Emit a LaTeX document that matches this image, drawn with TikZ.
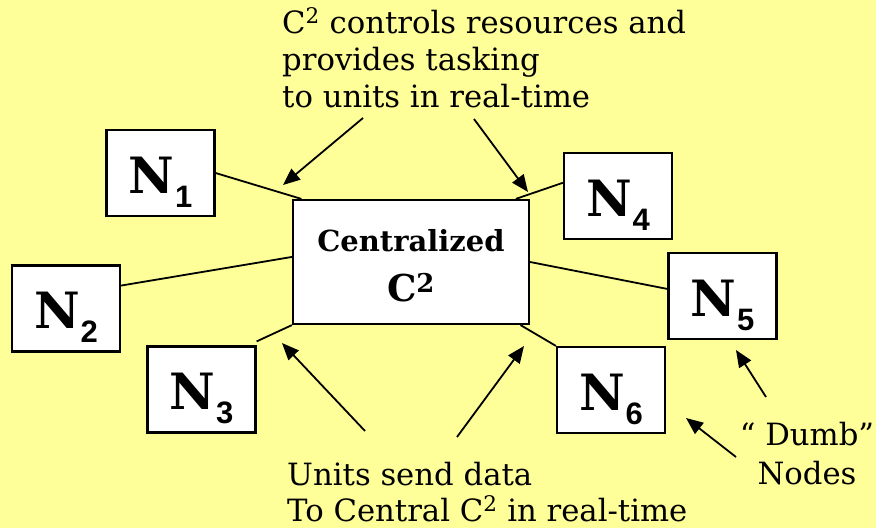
\documentclass[tikz,border=0pt]{standalone}
\usepackage{fontspec}
\setmainfont{DejaVu Serif}
\newfontfamily\subfont{Liberation Sans}
\usetikzlibrary{calc,arrows.meta}
\definecolor{pad}{RGB}{255,255,153}

% label of a node box: bold N with a sans-serif subscript digit
\newcommand{\nodelabel}[1]{{\fontsize{50}{50}\selectfont\bfseries N}\hspace{1pt}\raisebox{-14pt}{\subfont\bfseries\fontsize{31}{31}\selectfont #1}}

\begin{document}
\begin{tikzpicture}[x=1pt,y=-1pt,
  unit/.style={draw=black, line width=2.2pt, fill=white, minimum width=108pt,
    minimum height=86pt, inner sep=0pt, text height=48pt, text depth=8pt},
  hub/.style={draw=black, line width=2.2pt, fill=white, minimum width=236pt,
    minimum height=124pt, inner sep=0pt, align=center,
    font=\fontsize{29}{50}\selectfont\bfseries},
  link/.style={line width=1.8pt},
  pointer/.style={line width=1.8pt, -{Triangle[length=17pt,width=14pt]}},
  note/.style={align=left, inner sep=0pt, anchor=base west}
]
\useasboundingbox (0,0) rectangle (876,528);
\fill[pad] (0,0) rectangle (876,528);

% central command node and the six units
\node[hub] (c) at (411,262)
  {\rule{0pt}{30pt}Centralized\\
   {\fontsize{37}{37}\selectfont C\textsuperscript{2}}};
\node[unit] (n1) at (160.5,173) {\nodelabel{1}};
\node[unit] (n2) at (66,308.5) {\nodelabel{2}};
\node[unit] (n3) at (201.5,389.5) {\nodelabel{3}};
\node[unit] (n4) at (618,196) {\nodelabel{4}};
\node[unit] (n5) at (722.5,296) {\nodelabel{5}};
\node[unit] (n6) at (611,390) {\nodelabel{6}};

% links from the units to the centre
\draw[link] (n1.east) -- ($(c.north west)!0.04!(c.north east)$);
\draw[link] ($(n2.north east)!0.24!(n2.south east)$) -- ($(c.north west)!0.46!(c.south west)$);
\draw[link] ([yshift=4pt]n3.north east) -- (c.south west);
\draw[link] ($(n4.north west)!0.35!(n4.south west)$) -- ($(c.north west)!0.94!(c.north east)$);
\draw[link] (c.east) -- ($(n5.north west)!0.42!(n5.south west)$);
\draw[link] ($(c.south west)!0.96!(c.south east)$) -- (n6.north west);

% captions (base anchor sits on the last line)
\node[note, font=\fontsize{30.7}{37}\selectfont] (top) at (282,107)
  {C\textsuperscript{2} controls resources and\\provides tasking\\to units in real-time};
\node[note, font=\fontsize{30.7}{35.5}\selectfont] (bottom) at (287,521)
  {Units send data\\To Central C\textsuperscript{2} in real-time};
\node[align=center, inner sep=0pt, anchor=base, font=\fontsize{30.7}{39}\selectfont] (dumb) at (807,484)
  {“ Dumb”\\Nodes};

% arrows from the captions
\coordinate (t1) at (363,118);  \coordinate (h1) at (283,185);
\coordinate (t2) at (474,119);  \coordinate (h2) at (528,192);
\coordinate (t3) at (365,431);  \coordinate (h3) at (282,343);
\coordinate (t4) at (457,437);  \coordinate (h4) at (524,346);
\coordinate (t5) at (766,397);  \coordinate (h5) at (736,350);
\coordinate (t6) at (736,457);  \coordinate (h6) at (686,418);
\draw[pointer] (t1) -- (h1);
\draw[pointer] (t2) -- (h2);
\draw[pointer] (t3) -- (h3);
\draw[pointer] (t4) -- (h4);
\draw[pointer] (t5) -- (h5);
\draw[pointer] (t6) -- (h6);
\end{tikzpicture}
\end{document}
